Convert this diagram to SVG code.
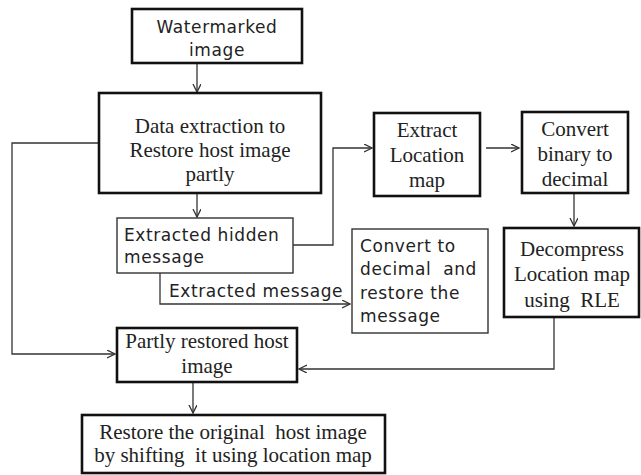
<svg xmlns="http://www.w3.org/2000/svg" width="641" height="475" viewBox="0 0 641 475">
<defs>
<marker id="arr" markerWidth="10" markerHeight="10" refX="8" refY="4" orient="auto" markerUnits="userSpaceOnUse">
<path d="M0,0 L8,4 L0,8" fill="none" stroke="#333" stroke-width="1.3"/>
</marker>
</defs>
<style>
.thick{fill:#fff;stroke:#111;stroke-width:2.6}
.thin{fill:#fff;stroke:#333;stroke-width:1.4}
.serif{font-family:"Liberation Serif","Times New Roman",serif;font-size:21px;fill:#222;text-anchor:middle}
.sans{font-family:"DejaVu Sans",Verdana,sans-serif;font-size:17px;fill:#222;letter-spacing:0.6px}
.conn path{fill:none;stroke:#333;stroke-width:1.3;marker-end:url(#arr)}
</style>
<rect width="641" height="475" fill="#fff"/>
<g class="conn" id="connectors">
<path d="M197,63 V92"/>
<path d="M197,193 V217"/>
<path d="M99,143 H12 V354 H115"/>
<path d="M293,245 H333 V148 H372"/>
<path d="M486,148 H519"/>
<path d="M574,194 V226"/>
<path d="M160,273 V304 H350"/>
<path d="M554,317 V369 H299"/>
<path d="M193,382 V413"/>
</g>
<g id="watermarked">
<rect class="thick" x="132" y="9" width="170" height="54"/>
<text class="sans" x="217" y="33" text-anchor="middle">Watermarked</text>
<text class="sans" x="217" y="56" text-anchor="middle">image</text>
</g>
<g id="data-extraction">
<rect class="thick" x="99" y="93" width="222" height="100"/>
<text class="serif" x="210" y="133">Data extraction to</text>
<text class="serif" x="210" y="157">Restore host image</text>
<text class="serif" x="210" y="181">partly</text>
</g>
<g id="extracted-hidden">
<rect class="thin" x="117" y="218" width="176" height="55"/>
<text class="sans" x="124" y="241">Extracted hidden</text>
<text class="sans" x="124" y="263">message</text>
</g>
<g id="extract-location">
<rect class="thick" x="374" y="113" width="106" height="83"/>
<text class="serif" x="427" y="137">Extract</text>
<text class="serif" x="427" y="162">Location</text>
<text class="serif" x="427" y="187">map</text>
</g>
<g id="convert-binary">
<rect class="thick" x="522" y="112" width="106" height="81"/>
<text class="serif" x="575" y="136">Convert</text>
<text class="serif" x="575" y="161">binary to</text>
<text class="serif" x="575" y="186">decimal</text>
</g>
<g id="decompress">
<rect class="thick" x="504" y="228" width="135" height="89"/>
<text class="serif" x="572" y="256">Decompress</text>
<text class="serif" x="572" y="281">Location map</text>
<text class="serif" x="572" y="307" xml:space="preserve">using  RLE</text>
</g>
<g id="convert-decimal">
<rect class="thin" x="352" y="229" width="136" height="104"/>
<text class="sans" x="360" y="252">Convert to</text>
<text class="sans" x="360" y="275" xml:space="preserve">decimal  and</text>
<text class="sans" x="360" y="299">restore the</text>
<text class="sans" x="360" y="322">message</text>
</g>
<g id="extracted-message-label">
<text class="sans" x="169" y="297">Extracted message</text>
</g>
<g id="partly-restored">
<rect class="thick" x="117" y="328" width="180" height="54"/>
<text class="serif" x="207" y="348">Partly restored host</text>
<text class="serif" x="207" y="373">image</text>
</g>
<g id="restore-original">
<rect class="thick" x="82" y="415" width="303" height="58"/>
<text class="serif" x="233" y="439" xml:space="preserve">Restore the original  host image</text>
<text class="serif" x="233" y="462" xml:space="preserve">by shifting  it using location map</text>
</g>
</svg>
